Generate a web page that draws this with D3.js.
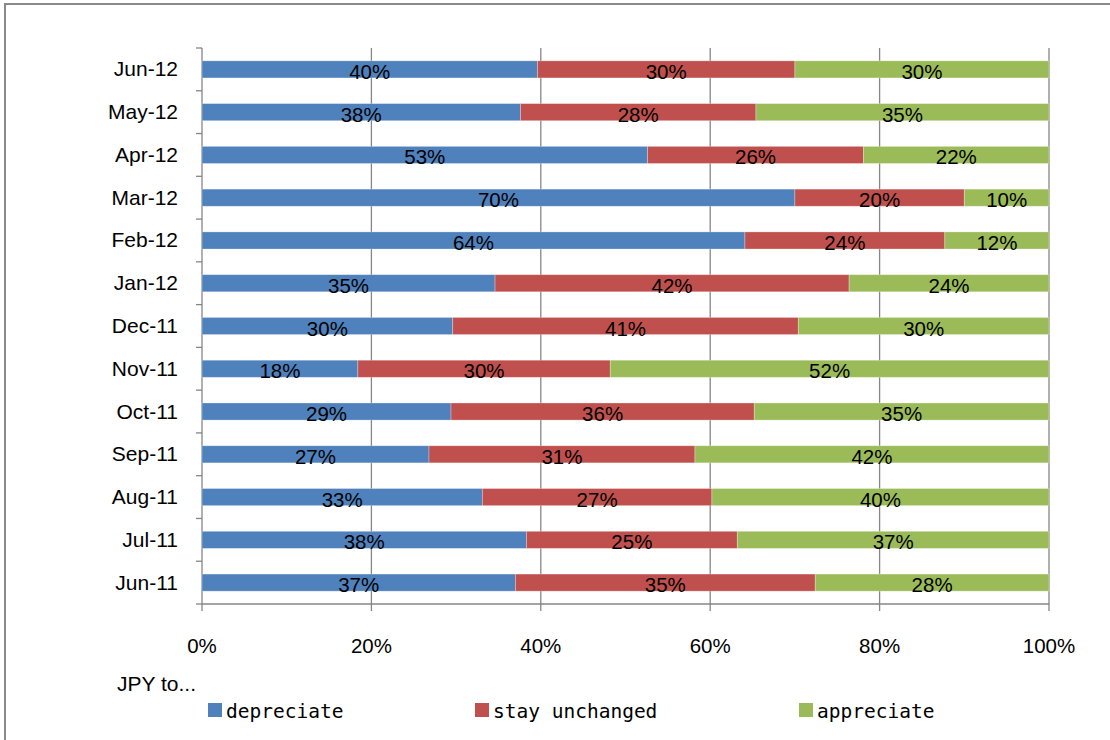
<!DOCTYPE html>
<html>
<head>
<meta charset="utf-8">
<script src="https://cdn.jsdelivr.net/npm/d3@7"></script>
<style>
  html, body { margin: 0; padding: 0; background: #fff; }
  svg { display: block; }
</style>
</head>
<body>
<svg id="chart" width="1110" height="740"></svg>
<script>
  // Survey months (top to bottom as drawn)
  const months = ["Jun-12", "May-12", "Apr-12", "Mar-12", "Feb-12", "Jan-12", "Dec-11",
                  "Nov-11", "Oct-11", "Sep-11", "Aug-11", "Jul-11", "Jun-11"];

  // Share of answers, percent
  const depreciate = [39.6, 37.6, 52.6, 70.0, 64.1, 34.6, 29.6, 18.4, 29.4, 26.8, 33.1, 38.3, 37.0];
  const unchanged  = [30.4, 27.8, 25.5, 20.0, 23.6, 41.8, 40.8, 29.8, 35.8, 31.4, 27.1, 24.9, 35.4];
  const appreciate = [30.0, 34.6, 21.9, 10.0, 12.3, 23.6, 29.6, 51.8, 34.8, 41.8, 39.8, 36.8, 27.6];

  const seriesNames = ["depreciate", "stay unchanged", "appreciate"];
  const xTicks = [0, 20, 40, 60, 80, 100];

  const BLUE = "#4f81bd";
  const RED = "#c0504d";
  const GREEN = "#9bbb59";
  const GRID = "#868686";
  const colors = [BLUE, RED, GREEN];
  const FONT = "Liberation Sans, Arial, sans-serif";

  const svg = d3.select("#chart");

  // outer chart frame (runs off the picture to the right and bottom)
  svg.append("rect")
    .attr("x", 5).attr("y", 4)
    .attr("width", 1120).attr("height", 760)
    .attr("fill", "none")
    .attr("stroke", "#8a8a8a")
    .attr("stroke-width", 2);

  const margin = { left: 202, right: 61, top: 48, bottom: 136 };
  const width = 1110, height = 740;
  const plotBottom = height - margin.bottom;

  const x = d3.scaleLinear()
    .domain([0, 100])
    .range([margin.left, width - margin.right]);

  const y = d3.scaleBand()
    .domain(months)
    .range([margin.top, plotBottom])
    .paddingInner(0.6)
    .paddingOuter(0.3);

  // vertical gridlines, running a little below the axis as tick marks
  svg.append("g")
    .selectAll("line")
    .data(xTicks)
    .join("line")
    .attr("x1", d => x(d)).attr("x2", d => x(d))
    .attr("y1", margin.top).attr("y2", plotBottom + 7)
    .attr("stroke", GRID)
    .attr("stroke-width", 1.3);

  // x axis line
  svg.append("line")
    .attr("x1", x(0)).attr("x2", x(100))
    .attr("y1", plotBottom).attr("y2", plotBottom)
    .attr("stroke", GRID)
    .attr("stroke-width", 1.3);

  // x tick labels
  svg.append("g")
    .selectAll("text")
    .data(xTicks)
    .join("text")
    .attr("x", d => x(d))
    .attr("y", 653)
    .attr("text-anchor", "middle")
    .attr("font-family", FONT)
    .attr("font-size", 20.5)
    .attr("fill", "#000")
    .text(d => d + "%");

  // stacked rows
  const rows = months.map((m, i) => ({ month: m, vals: [depreciate[i], unchanged[i], appreciate[i]] }));

  rows.forEach(row => {
    let acc = 0;
    row.vals.forEach((v, k) => {
      const x0 = acc, x1 = acc + v;
      acc = x1;
      svg.append("rect")
        .attr("x", x(x0))
        .attr("y", y(row.month))
        .attr("width", x(x1) - x(x0))
        .attr("height", y.bandwidth())
        .attr("fill", colors[k])
        .attr("stroke", "#fff")
        .attr("stroke-opacity", 0.35)
        .attr("stroke-width", 0.8);
      svg.append("text")
        .attr("x", (x(x0) + x(x1)) / 2)
        .attr("y", y(row.month) + y.bandwidth() / 2 + 9.5)
        .attr("text-anchor", "middle")
        .attr("font-family", FONT)
        .attr("font-size", 20.5)
        .attr("fill", "#000")
        .text(Math.round(v) + "%");
    });
  });

  // y axis: ticks between categories, labels
  const yAxis = svg.append("g");
  const step = y.step();
  const tickYs = d3.range(months.length + 1).map(i => margin.top + i * step);
  yAxis.selectAll("line.tick")
    .data(tickYs)
    .join("line")
    .attr("class", "tick")
    .attr("x1", margin.left - 6).attr("x2", margin.left)
    .attr("y1", d => d).attr("y2", d => d)
    .attr("stroke", GRID)
    .attr("stroke-width", 1.3);

  yAxis.selectAll("text")
    .data(months)
    .join("text")
    .attr("x", 178)
    .attr("y", d => y(d) + y.bandwidth() / 2 + 7)
    .attr("text-anchor", "end")
    .attr("font-family", FONT)
    .attr("font-size", 21)
    .attr("fill", "#000")
    .text(d => d);

  // legend title
  svg.append("text")
    .attr("x", 117).attr("y", 691)
    .attr("font-family", FONT)
    .attr("font-size", 21)
    .attr("fill", "#000")
    .text("JPY to...");

  // legend
  const legendX = [208, 475, 799];
  const legend = svg.append("g")
    .selectAll("g")
    .data(seriesNames)
    .join("g")
    .attr("transform", (d, i) => `translate(${legendX[i]},703)`);

  legend.append("rect")
    .attr("width", 14).attr("height", 14)
    .attr("fill", (d, i) => colors[i]);

  legend.append("text")
    .attr("x", 18).attr("y", 15)
    .attr("font-family", "DejaVu Sans Mono, monospace")
    .attr("font-size", 19.5)
    .attr("fill", "#000")
    .text(d => d);
</script>
</body>
</html>
